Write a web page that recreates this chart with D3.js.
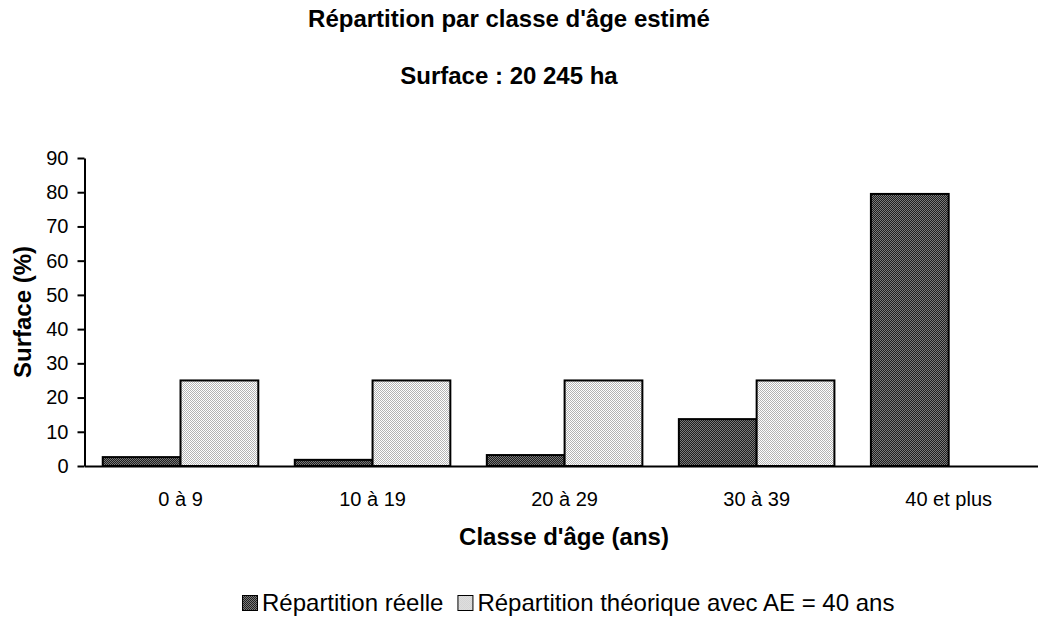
<!DOCTYPE html>
<html><head><meta charset="utf-8">
<script src="https://cdn.jsdelivr.net/npm/d3@7"></script>
<style>body{margin:0;background:#fff}svg{display:block;font-family:"Liberation Sans",Arial,sans-serif}</style>
</head><body>
<svg id="c" width="1038" height="624"></svg>
<script>
const categories = ["0 à 9", "10 à 19", "20 à 29", "30 à 39", "40 et plus"];
const seriesNames = ["Répartition réelle", "Répartition théorique avec AE = 40 ans"];
const reelle = [2.6, 1.8, 3.2, 13.7, 79.5];
const theorique = [25, 25, 25, 25, null];
const yTicks = [0, 10, 20, 30, 40, 50, 60, 70, 80, 90];
const title1 = "Répartition par classe d'âge estimé";
const title2 = "Surface : 20 245 ha";
const xTitle = "Classe d'âge (ans)";
const yTitle = "Surface (%)";

const FONT = "Liberation Sans, Arial, sans-serif";
const svg = d3.select("#c");
const defs = svg.append("defs");
function pat(id, bg, fg){
  const p = defs.append("pattern").attr("id", id).attr("width", 2).attr("height", 2).attr("patternUnits", "userSpaceOnUse");
  p.append("rect").attr("width", 2).attr("height", 2).attr("fill", bg);
  p.append("rect").attr("width", 1).attr("height", 1).attr("fill", fg);
  p.append("rect").attr("x", 1).attr("y", 1).attr("width", 1).attr("height", 1).attr("fill", fg);
}
pat("pDark", "#1e1e1e", "#7a7a7a");
pat("pLight", "#ffffff", "#b4b4b4");
const fills = ["url(#pDark)", "url(#pLight)"];

const x0 = 84.5, x1 = 1044.7, yTop = 158, yBot = 466;
const x = d3.scaleBand().domain(categories).range([x0, x1]).paddingInner(0.19).paddingOuter(0.095);
const xs = d3.scaleBand().domain([0, 1]).range([0, x.bandwidth()]);
const y = d3.scaleLinear().domain([0, 90]).range([yBot, yTop]);

// titles
svg.append("text").attr("x", 509).attr("y", 27).attr("text-anchor", "middle")
  .attr("font-weight", "bold").attr("font-size", 24).text(title1);
svg.append("text").attr("x", 509).attr("y", 84).attr("text-anchor", "middle")
  .attr("font-weight", "bold").attr("font-size", 24).text(title2);

// bars
const data = [reelle, theorique];
data.forEach((arr, s) => {
  svg.append("g").selectAll("rect").data(categories.map((c, i) => ({c, v: arr[i]})).filter(d => d.v != null))
    .join("rect")
    .attr("x", d => x(d.c) + xs(s))
    .attr("y", d => y(d.v))
    .attr("width", xs.bandwidth())
    .attr("height", d => y(0) - y(d.v))
    .attr("fill", fills[s])
    .attr("stroke", "#000").attr("stroke-width", 2);
});

// y axis
const ya = svg.append("g").attr("transform", `translate(${x0},0)`)
  .call(d3.axisLeft(y).tickValues(yTicks).tickSize(7).tickPadding(9).tickSizeOuter(0));
ya.select(".domain").attr("stroke", "#000").attr("stroke-width", 2);
ya.selectAll(".tick line").attr("stroke", "#000").attr("stroke-width", 2);
ya.selectAll("text").attr("font-size", 20).attr("fill", "#000").attr("font-family", FONT);

// x axis
const xa = svg.append("g").attr("transform", `translate(0,${yBot})`)
  .call(d3.axisBottom(x).tickSize(0).tickPadding(26).tickSizeOuter(0));
xa.select(".domain").attr("stroke", "#000").attr("stroke-width", 2);
xa.selectAll("text").attr("font-size", 20).attr("fill", "#000").attr("font-family", FONT);

// axis titles
svg.append("text").attr("x", 564).attr("y", 545).attr("text-anchor", "middle")
  .attr("font-weight", "bold").attr("font-size", 24).text(xTitle);
svg.append("text").attr("transform", "translate(31,312) rotate(-90)").attr("text-anchor", "middle")
  .attr("font-weight", "bold").attr("font-size", 24).text(yTitle);

// legend
const lg = svg.append("g").attr("transform", "translate(242,611)");
let lx = 0;
seriesNames.forEach((n, i) => {
  const g = lg.append("g").attr("transform", `translate(${lx},0)`);
  g.append("rect").attr("x", 0.5).attr("y", -15.5).attr("width", 15).attr("height", 15)
    .attr("fill", fills[i]).attr("stroke", "#000").attr("stroke-width", 1);
  const t = g.append("text").attr("x", 20).attr("y", 0).attr("font-size", 24).text(n);
  lx += 20 + t.node().getComputedTextLength() + 14;
});
</script>
</body></html>
